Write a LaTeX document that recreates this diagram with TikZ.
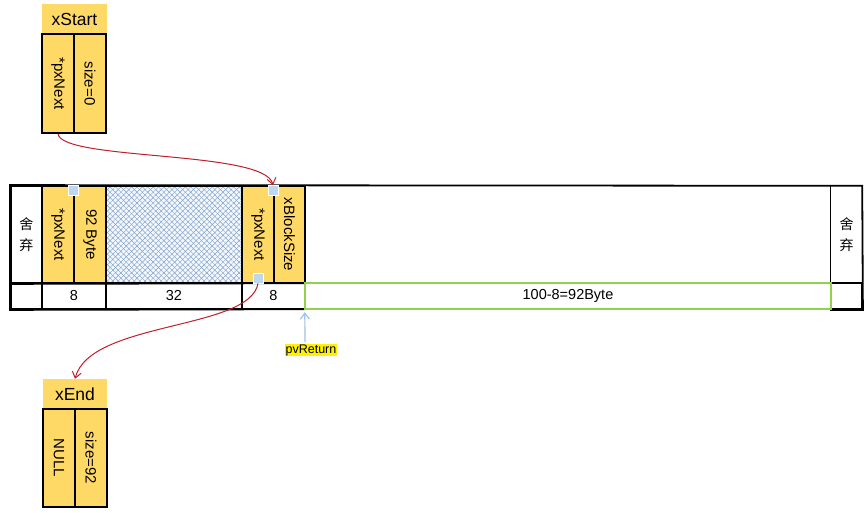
\documentclass[tikz,border=0pt]{standalone}
\usepackage{graphicx}
\usepackage{fontspec}
\setmainfont{Liberation Sans}
\newfontfamily\cjk{Noto Sans CJK SC}
\usetikzlibrary{arrows.meta,patterns.meta}
\definecolor{gold}{HTML}{FFD966}
\definecolor{sqblue}{HTML}{BDD7EE}
\definecolor{arrred}{RGB}{192,30,45}
\definecolor{grn}{HTML}{92D050}
\definecolor{hatchc}{HTML}{7F9FCB}
\definecolor{hatchbg}{HTML}{F2F8FD}
\definecolor{pvblue}{HTML}{9DC3E6}
\tikzset{
  cellbox/.style={draw=black, line width=1.8pt, inner sep=0pt, anchor=center},
  goldcell/.style={cellbox, fill=gold},
  whitecell/.style={cellbox, fill=white},
  hdr/.style={fill=gold, inner sep=0pt, font=\fontsize{17.5}{20}\selectfont},
  vtxt/.style={font=\fontsize{15}{18}\selectfont},
  lowtxt/.style={font=\fontsize{14.5}{17}\selectfont},
  cjktxt/.style={font=\cjk\fontsize{14}{21}\selectfont, align=center},
  sqr/.style={fill=sqblue, draw=white, line width=0.8pt, minimum width=10pt, minimum height=10pt, inner sep=0pt},
  redarrow/.style={draw=arrred, line width=1pt, -{Straight Barb[length=6pt,width=9pt,line width=1pt]}},
  bluearrow/.style={draw=pvblue, line width=1.2pt, -{Straight Barb[length=6pt,width=9pt,line width=1.2pt]}},
  pvlabel/.style={fill=yellow, inner sep=0.8pt, font=\fontsize{12.5}{14}\selectfont},
  frame/.style={draw=black, line width=1.8pt},
}
\begin{document}
\begin{tikzpicture}[x=1pt,y=-1pt]
\useasboundingbox (0,0) rectangle (868,512);
\fill[white] (0,0) rectangle (868,512);

% xStart
\node[hdr, minimum width=65pt, minimum height=30pt] (xsh) at (74.5,19) {xStart};
\node[goldcell, minimum width=32pt, minimum height=99pt, vtxt] (xs1) at (58,83.5) {\rotatebox{-90}{*pxNext}};
\node[goldcell, minimum width=32pt, minimum height=99pt, vtxt] (xs2) at (90,83.5) {\rotatebox{-90}{size=0}};

% xEnd
\node[hdr, minimum width=64pt, minimum height=30pt] (xeh) at (75,394) {xEnd};
\node[goldcell, minimum width=32pt, minimum height=98pt, vtxt] (xe1) at (59,458) {\rotatebox{-90}{NULL}};
\node[goldcell, minimum width=32pt, minimum height=98pt, vtxt] (xe2) at (91,458) {\rotatebox{-90}{size=92}};

% main block, upper row
\node[whitecell, minimum width=31pt, minimum height=97pt, cjktxt] (d1) at (26.5,234.5) {舍\\弃};
\node[goldcell, minimum width=32pt, minimum height=97pt, vtxt] (p1) at (58,234.5) {\rotatebox{-90}{*pxNext}};
\node[goldcell, minimum width=32pt, minimum height=97pt, vtxt] (s1) at (90,234.5) {\rotatebox{-90}{92 Byte}};
\node[inner sep=0pt, fill=hatchbg, minimum width=136pt, minimum height=97pt,
      postaction={pattern={Lines[angle=45,distance=3.8pt,line width=0.45pt]}, pattern color=hatchc},
      postaction={pattern={Lines[angle=-45,distance=3.8pt,line width=0.45pt]}, pattern color=hatchc}] (h) at (174,234.5) {};
\draw[frame] (h.north west) rectangle (h.south east);
\node[goldcell, minimum width=32pt, minimum height=97pt, vtxt] (p2) at (258,234.5) {\rotatebox{-90}{*pxNext}};
\node[goldcell, minimum width=31pt, minimum height=97pt, vtxt] (s2) at (289.5,234.5) {\rotatebox{-90}{xBlockSize}};
\node[inner sep=0pt, minimum width=526pt, minimum height=97pt] (free) at (568,234.5) {};
\node[inner sep=0pt, minimum width=31pt, minimum height=97pt, cjktxt] (d2) at (846.5,234.5) {舍\\弃};

% main block, lower row
\node[whitecell, minimum width=31pt, minimum height=26pt] (l0) at (26.5,296) {};
\node[whitecell, minimum width=64pt, minimum height=26pt, lowtxt] (l1) at (74,296) {8};
\node[whitecell, minimum width=136pt, minimum height=26pt, lowtxt] (l2) at (174,296) {32};
\node[whitecell, minimum width=63pt, minimum height=26pt, lowtxt] (l3) at (273.5,296) {8};
\node[inner sep=0pt, minimum width=526pt, minimum height=26pt, lowtxt] (l4) at (568,296) {100-8=92Byte};
\node[whitecell, minimum width=31pt, minimum height=26pt] (l5) at (846.5,296) {};

% outer frame (not under the green cell) and thin divider
\draw[frame] (l4.south west) -- (l0.south west) -- (d1.north west) -- (d2.north east) -- (l5.south east) -- (l5.south west);
\draw[frame] (d1.south west) -- (free.south west);
\draw[frame] (d2.south west) -- (d2.south east);
\draw[black, line width=1pt] (d2.north west) -- (d2.south west);
\draw[grn, line width=1.8pt] (l4.north west) rectangle (l4.south east);

% small squares
\node[sqr] (q1) at (73,190.5) {};
\node[sqr] (q2) at (273,190.5) {};
\node[sqr] (q3) at (258,278) {};

% arrows
\draw[redarrow] (xs1.south) .. controls +(4,27) and +(-8,-35) .. (q2.north);
\draw[redarrow] (q3.south) .. controls +(-8,47) and +(15,-58) .. (xeh.north);

\node[pvlabel] (pv) at (311,350) {pvReturn};
\coordinate (pvtail) at (305,342);
\draw[bluearrow] (pvtail) -- ([yshift=-3pt]l4.south west);
\end{tikzpicture}
\end{document}
